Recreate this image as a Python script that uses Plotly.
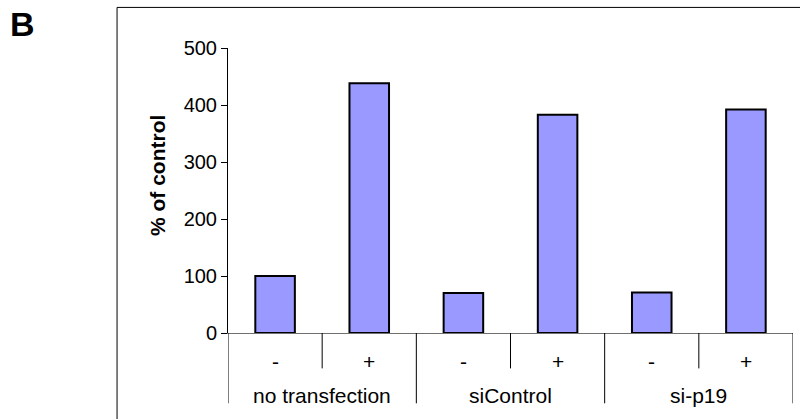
import plotly.graph_objects as go

# Data
groups = ["no transfection", "siControl", "si-p19"]
treatments = ["-", "+", "-", "+", "-", "+"]
values = [100, 438, 70, 383, 71, 392]
y_ticks = [0, 100, 200, 300, 400, 500]

# Canvas and plot-area margins (pixels)
W, H = 800, 419
L, R, T, B = 228, 6.7, 47.7, 85.5
PW, PH = W - L - R, H - T - B

FONT = "Arial, Liberation Sans, sans-serif"


def px_x(px):
    """Horizontal pixel -> paper coordinate."""
    return (px - L) / PW


def px_y(py):
    """Vertical pixel (from top) -> paper coordinate."""
    return (H - B - py) / PH


xs = list(range(len(values)))

fig = go.Figure(
    go.Bar(
        x=xs,
        y=values,
        width=0.42,
        marker=dict(color="#9999FF", line=dict(color="black", width=2)),
        hoverinfo="skip",
    )
)

shapes = []
# Category dividers below the axis: short ones between treatments,
# long ones between groups.
for i in range(len(values) + 1):
    xb = i - 0.5
    long_line = i % 2 == 0
    shapes.append(dict(
        type="line", xref="x", yref="paper",
        x0=xb, x1=xb, y0=0, y1=px_y(404 if long_line else 369),
        line=dict(color="black", width=1),
    ))

# Outer frame of the panel
shapes.append(dict(
    type="rect", xref="paper", yref="paper",
    x0=px_x(117), x1=px_x(815), y0=px_y(7), y1=px_y(435),
    line=dict(color="black", width=1), fillcolor="rgba(0,0,0,0)",
    layer="below",
))

annotations = []
for x, t in zip(xs, treatments):
    annotations.append(dict(
        x=x, y=px_y(362), xref="x", yref="paper", text=t, showarrow=False,
        xanchor="center", yanchor="middle",
        font=dict(family=FONT, size=21, color="black"),
    ))
for k, g in enumerate(groups):
    annotations.append(dict(
        x=2 * k + 0.5, y=px_y(396), xref="x", yref="paper", text=g,
        showarrow=False, xanchor="center", yanchor="middle",
        font=dict(family=FONT, size=21, color="black"),
    ))
annotations.append(dict(
    x=px_x(158), y=px_y(176), xref="paper", yref="paper",
    text="<b>% of control</b>", textangle=-90, showarrow=False,
    xanchor="center", yanchor="middle",
    font=dict(family=FONT, size=21, color="black"),
))
annotations.append(dict(
    x=px_x(22), y=px_y(24), xref="paper", yref="paper",
    text="<b>B</b>", showarrow=False, xanchor="center", yanchor="middle",
    font=dict(family=FONT, size=34, color="black"),
))

fig.update_layout(
    width=W, height=H,
    margin=dict(l=L, r=R, t=T, b=B, pad=0),
    paper_bgcolor="white", plot_bgcolor="white",
    showlegend=False,
    shapes=shapes,
    annotations=annotations,
    xaxis=dict(
        range=[-0.5, len(values) - 0.5],
        showticklabels=False, ticks="", showgrid=False, zeroline=False,
        showline=True, linecolor="#707070", linewidth=1,
        fixedrange=True,
    ),
    yaxis=dict(
        range=[0, 500],
        tickvals=y_ticks, ticks="outside", ticklen=6, tickcolor="black",
        tickwidth=1, showgrid=False, zeroline=False,
        showline=True, linecolor="black", linewidth=1,
        tickfont=dict(family=FONT, size=20, color="black"),
        fixedrange=True,
    ),
)

fig.write_html("out.html")
